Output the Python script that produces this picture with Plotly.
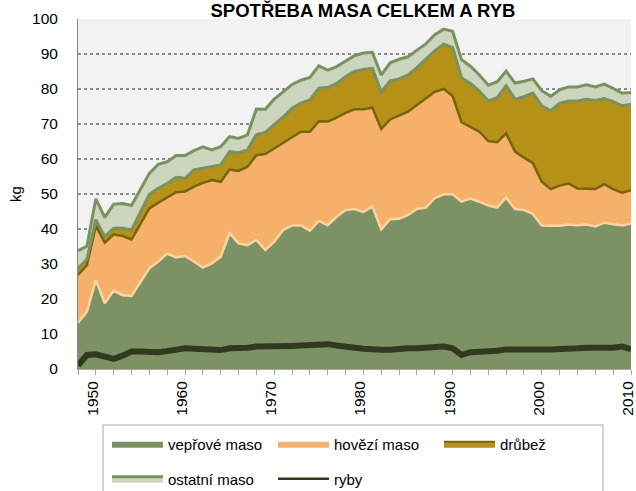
import plotly.graph_objects as go

# ---------------- data (kg per person per year) ----------------
years = list(range(1948, 2011))

pork = [13.2, 16.4, 25.4, 18.8, 22.4, 21.1, 20.9, 25.0, 28.8, 30.7,
        33.0, 31.9, 32.3, 30.7, 29.0, 30.2, 32.1, 38.8, 35.9, 35.4,
        36.9, 34.0, 36.4, 39.7, 41.0, 41.0, 39.5, 42.3, 41.1, 43.5,
        45.4, 45.7, 44.9, 46.4, 39.9, 42.8, 42.9, 44.0, 45.7, 46.1,
        48.8, 49.9, 49.9, 47.8, 48.7, 47.8, 46.7, 46.1, 49.0, 45.7,
        45.4, 44.3, 41.0, 40.9, 40.9, 41.3, 41.1, 41.3, 40.7, 41.8,
        41.4, 41.0, 41.6]

beef = [13.7, 13.3, 15.5, 17.3, 16.1, 16.9, 16.1, 16.4, 17.1, 16.8,
        16.0, 18.6, 18.4, 21.4, 24.2, 23.8, 21.4, 18.2, 20.7, 22.4,
        24.2, 27.4, 26.6, 24.8, 25.2, 26.8, 28.3, 28.5, 29.6, 28.3,
        27.8, 28.5, 29.3, 28.3, 28.7, 28.5, 29.4, 29.5, 29.7, 31.2,
        30.4, 30.1, 28.1, 22.7, 20.5, 20.0, 18.4, 18.7, 18.3, 16.4,
        15.0, 14.5, 12.5, 10.5, 11.5, 11.7, 10.5, 10.3, 10.7, 11.0,
        10.0, 9.4, 9.5]

poultry = [1.9, 1.6, 1.7, 1.7, 1.7, 2.2, 2.7, 3.6, 4.0, 4.1,
           4.0, 4.3, 3.8, 4.8, 4.1, 3.8, 4.8, 5.1, 5.2, 4.8,
           5.9, 6.2, 6.8, 7.5, 8.3, 8.2, 9.1, 9.4, 9.7, 9.8,
           10.3, 10.8, 11.4, 11.2, 10.6, 11.0, 10.6, 10.5, 10.7, 11.2,
           11.7, 12.8, 13.8, 12.7, 12.4, 11.6, 11.5, 12.7, 13.6, 15.0,
           17.4, 20.0, 21.7, 22.4, 23.5, 23.6, 25.0, 25.5, 25.3, 24.5,
           25.0, 24.8, 24.5]

other = [5.0, 3.8, 6.0, 5.5, 6.9, 7.1, 7.0, 6.5, 6.0, 6.9,
         6.2, 6.2, 6.5, 5.5, 6.2, 4.8, 5.2, 4.3, 4.1, 4.3,
         7.3, 6.6, 7.3, 7.2, 6.8, 6.5, 6.4, 6.4, 5.0, 4.8,
         4.4, 4.5, 4.7, 4.6, 4.8, 5.2, 5.6, 5.2, 5.0, 4.4,
         4.6, 4.3, 4.7, 5.2, 4.9, 4.6, 4.5, 4.6, 4.2, 4.6,
         4.4, 4.1, 4.3, 4.1, 3.9, 4.0, 4.0, 4.1, 3.9, 4.1,
         3.8, 3.6, 3.4]

fish = [1.0, 4.0, 4.2, 3.5, 2.9, 3.8, 5.0, 5.0, 4.8, 4.8,
        5.1, 5.6, 5.9, 5.8, 5.7, 5.2, 5.4, 5.9, 5.9, 6.1,
        6.4, 6.4, 6.2, 6.4, 6.6, 6.7, 6.9, 7.0, 7.1, 6.7,
        6.2, 6.1, 5.8, 5.5, 5.5, 5.5, 5.8, 5.9, 5.9, 6.1,
        6.4, 6.4, 5.9, 4.0, 4.8, 4.8, 5.0, 5.2, 5.6, 5.7,
        5.6, 5.6, 5.6, 5.6, 5.6, 5.7, 5.9, 6.1, 5.9, 6.1,
        6.1, 6.4, 5.7]

x_tick_years = [1950, 1960, 1970, 1980, 1990, 2000, 2010]
y_ticks = [0, 10, 20, 30, 40, 50, 60, 70, 80, 90, 100]

names = ["vepřové maso", "hovězí maso", "drůbež", "ostatní maso", "ryby"]
title_text = "SPOTŘEBA MASA CELKEM A RYB"
y_title = "kg"

# ---------------- styles ----------------
FONT = "Liberation Sans, Arial, sans-serif"
C_PORK = "#7C9264"
C_BEEF = "#F5B069"
C_BEEF_EDGE = "#FDD3A0"
C_POULTRY = "#B69118"
C_POULTRY_EDGE = "#786408"
C_OTHER = "#CCD6BF"
C_OTHER_EDGE = "#7A9160"
C_FISH = "#33391F"

W, H = 636, 491
L, R, T, B = 78, 5, 19, 122
PW, PH = W - L - R, H - T - B


def px_x(px):
    return (px - L) / PW


def px_y(py):
    return (H - B - py) / PH


fig = go.Figure()

# stacked filled areas
fig.add_trace(go.Scatter(x=years, y=pork, name=names[0], stackgroup="meat",
                         fillcolor=C_PORK, line=dict(width=0, color=C_PORK),
                         legend="legend"))
fig.add_trace(go.Scatter(x=years, y=beef, name=names[1], stackgroup="meat",
                         fillcolor=C_BEEF, line=dict(width=0, color=C_BEEF),
                         legend="legend"))
fig.add_trace(go.Scatter(x=years, y=poultry, name=names[2], stackgroup="meat",
                         fillcolor=C_POULTRY, line=dict(width=2, color=C_POULTRY_EDGE),
                         legend="legend"))
fig.add_trace(go.Scatter(x=years, y=other, name=names[3], stackgroup="meat",
                         fillcolor=C_OTHER, line=dict(width=3, color=C_OTHER_EDGE),
                         legend="legend2"))

# boundary lines between the areas (same stacking, no fill)
for vals, col, w in [(pork, C_BEEF_EDGE, 2.5), (beef, C_POULTRY_EDGE, 2.5),
                     (poultry, C_OTHER_EDGE, 3)]:
    fig.add_trace(go.Scatter(x=years, y=vals, stackgroup="edges", fill="none",
                             mode="lines", line=dict(width=w, color=col),
                             showlegend=False, hoverinfo="skip"))

# fish: separate thick line
fig.add_trace(go.Scatter(x=years, y=fish, name=names[4], mode="lines",
                         line=dict(width=6, color=C_FISH), showlegend=False))
# legend entry for fish (thin line like the original legend)
fig.add_trace(go.Scatter(x=[None], y=[None], name=names[4], mode="lines",
                         line=dict(width=2.5, color=C_FISH), legend="legend2"))

leg_common = dict(orientation="h", font=dict(family=FONT, size=15, color="#000"),
                  bgcolor="rgba(0,0,0,0)", borderwidth=0, itemwidth=51,
                  entrywidth=100, entrywidthmode="pixels", xanchor="left",
                  yanchor="middle", itemclick=False)

fig.update_layout(
    width=W, height=H,
    margin=dict(l=L, r=R, t=T, b=B, autoexpand=False),
    paper_bgcolor="white",
    plot_bgcolor="#F2F2F2",
    font=dict(family=FONT, size=15, color="#000"),
    title=dict(text=f"<b>{title_text}</b>", x=363 / W, xanchor="center",
               y=1 - 10.5 / H, yanchor="middle", yref="container",
               font=dict(family=FONT, size=18.5, color="#000")),
    showlegend=True,
    legend=dict(x=px_x(107), y=px_y(444), traceorder="normal", **leg_common),
    legend2=dict(x=px_x(107), y=px_y(479), traceorder="normal", **leg_common),
    shapes=[dict(type="rect", xref="paper", yref="paper",
                 x0=px_x(103), x1=px_x(603), y0=px_y(425), y1=px_y(500),
                 line=dict(color="#A6A6A6", width=1), fillcolor="rgba(0,0,0,0)")],
    xaxis=dict(range=[1948, 2010], tickmode="array", tickvals=x_tick_years,
               ticktext=[str(v) for v in x_tick_years], tickangle=-90,
               ticks="outside", ticklen=5, tickcolor="#A6A6A6", tickwidth=1,
               minor=dict(dtick=2, tick0=1948, ticks="outside", ticklen=5,
                          tickcolor="#A6A6A6", tickwidth=1, showgrid=False),
               showgrid=False, zeroline=False, showline=True,
               linecolor="#A6A6A6", linewidth=1, ticklabeloverflow="allow",
               ticklabelshift=-3,
               tickfont=dict(family=FONT, size=15.5, color="#000"),
               automargin=False, layer="above traces"),
    yaxis=dict(range=[0, 100], tickmode="array", tickvals=y_ticks,
               ticks="outside", ticklen=16, tickcolor="rgba(0,0,0,0)",
               showgrid=True, gridcolor="#8C8C8C", gridwidth=1.5, griddash="dot",
               zeroline=False, showline=True, linecolor="#868686", linewidth=1,
               tickfont=dict(family=FONT, size=15.5, color="#000"),
               title=dict(text=y_title, standoff=6,
                          font=dict(family=FONT, size=15, color="#000")),
               automargin=False),
)

# remove the browser's default 8px page margin so the figure sits at (0, 0)
fig.write_html("out.html", config={"displayModeBar": False},
               post_script="document.body.style.margin='0px';")
